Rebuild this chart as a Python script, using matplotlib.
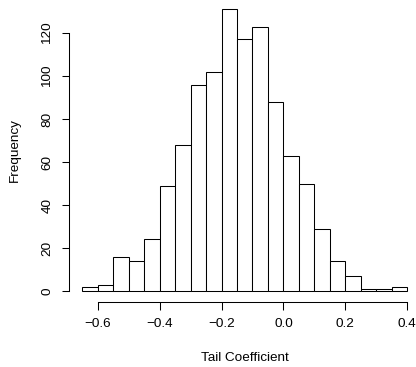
import matplotlib
matplotlib.use("Agg")
import matplotlib.pyplot as plt
import numpy as np

# Data
bin_edges = [-0.65, -0.60, -0.55, -0.50, -0.45, -0.40, -0.35, -0.30, -0.25, -0.20,
             -0.15, -0.10, -0.05, 0.00, 0.05, 0.10, 0.15, 0.20, 0.25, 0.30, 0.35, 0.40]
counts = [2, 3, 16, 14, 24, 49, 68, 96, 102, 131, 117, 123, 88, 63, 50, 29, 14, 7, 1, 1, 2]
x_ticks = [-0.6, -0.4, -0.2, 0.0, 0.2, 0.4]
x_ticklabels = ["\u22120.6", "\u22120.4", "\u22120.2", "0.0", "0.2", "0.4"]
y_ticks = [0, 20, 40, 60, 80, 100, 120]
x_label = "Tail Coefficient"
y_label = "Frequency"

plt.rcParams['font.family'] = ['Liberation Sans', 'DejaVu Sans']
FS = 9.7

W, H, DPI = 416, 367, 100
fig = plt.figure(figsize=(W / DPI, H / DPI), dpi=DPI)

# axes placed in pixels (plot region slightly cropped at top/right as in reference)
left_px, right_px = 69.2, 420.3
bottom_px, top_px = 302.3, -1.9  # from top of image
ax = fig.add_axes([left_px / W, (H - bottom_px) / H,
                   (right_px - left_px) / W, (bottom_px - top_px) / H])

edges = np.array(bin_edges)
ax.bar(edges[:-1], counts, width=np.diff(edges), align='edge',
       color='white', edgecolor='black', linewidth=0.75)

ax.set_xlim(-0.692, 0.442)
ax.set_ylim(-5.24, 136.24)

for s in ['top', 'right']:
    ax.spines[s].set_visible(False)
ax.spines['left'].set_bounds(0, 120)
ax.spines['bottom'].set_bounds(-0.6, 0.4)
for s in ['left', 'bottom']:
    ax.spines[s].set_linewidth(0.75)

ax.set_xticks(x_ticks)
ax.set_xticklabels(x_ticklabels, fontsize=FS)
ax.set_yticks(y_ticks)
ax.set_yticklabels([str(v) for v in y_ticks], fontsize=FS, rotation=90, va='center')
ax.tick_params(axis='both', length=5.4, width=0.75, color='black')
ax.tick_params(axis='x', pad=6.0)
ax.tick_params(axis='y', pad=6.0)

fig.text(244.8 / W, 1 - 358 / H, x_label, ha='center', va='center', fontsize=FS)
fig.text(15 / W, 1 - 150.2 / H, y_label, ha='center', va='center', rotation=90, fontsize=FS)

fig.savefig("out.png", dpi=DPI)
